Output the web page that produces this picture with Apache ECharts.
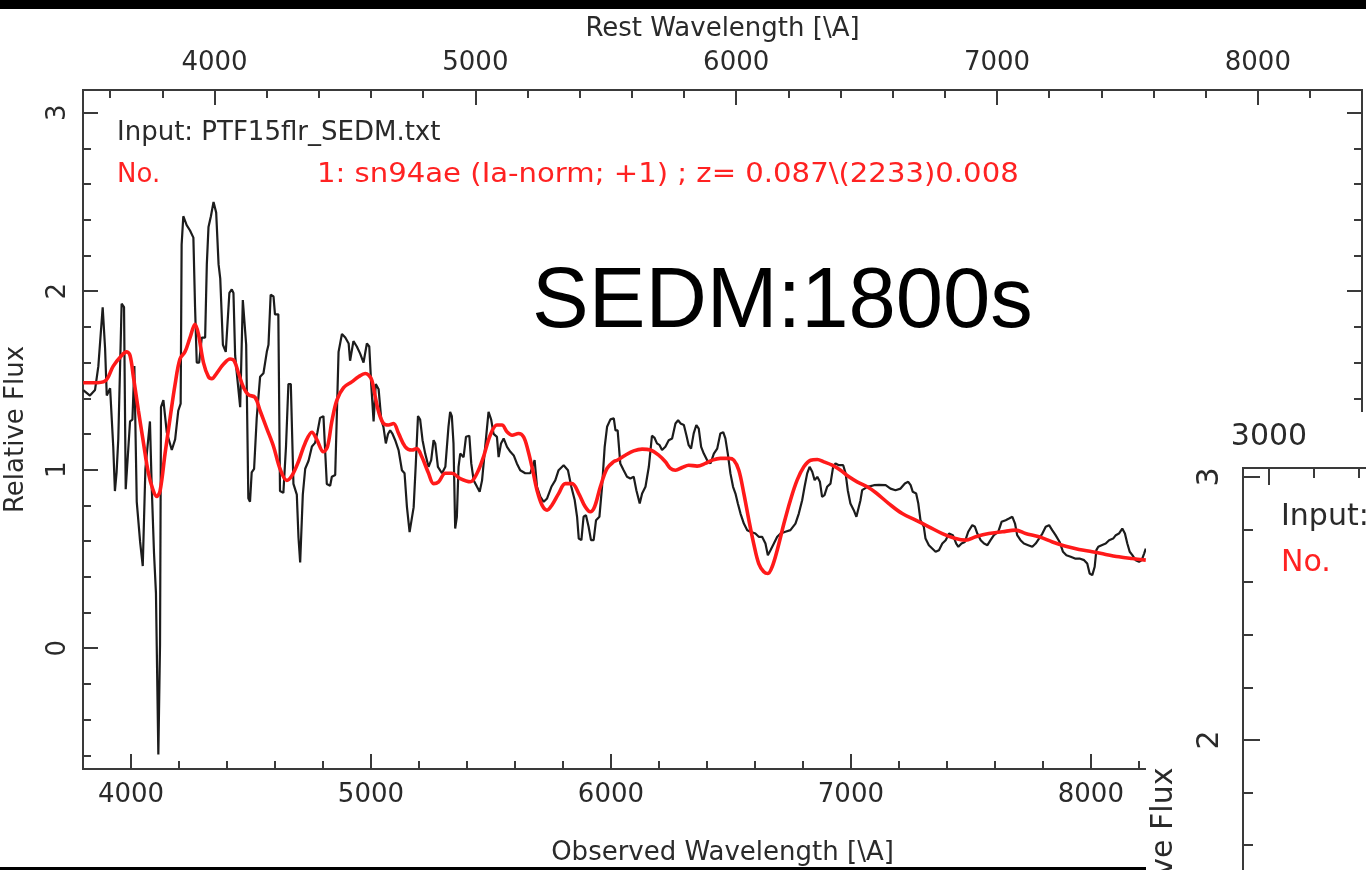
<!DOCTYPE html>
<html>
<head>
<meta charset="utf-8">
<script src="https://cdn.jsdelivr.net/npm/echarts@6/dist/echarts.min.js"></script>
<style>
html,body{margin:0;padding:0;background:#fff;overflow:hidden}
#c{width:1366px;height:870px}
</style>
</head>
<body>
<div id="c"></div>
<script>
// ---------------- data ----------------
const Z = 0.087;

// observed spectrum (black)
const obsWave = [3801,3829,3850,3864,3882,3892,3899,3913,3926,3933,3940,3947,3961,3971,3978,3985,3996,4006,4014,4024,4038,4049,4060,4079,4086,4096,4104,4114,4121,4125,4135,4149,4170,4184,4197,4207,4211,4218,4232,4246,4260,4267,4274,4284,4295,4309,4316,4323,4333,4344,4355,4365,4372,4383,4395,4410,4420,4427,4434,4441,4455,4466,4472,4480,4489,4496,4503,4513,4524,4538,4552,4566,4573,4582,4594,4600,4614,4621,4635,4646,4656,4666,4677,4691,4698,4705,4716,4726,4740,4754,4767,4777,4788,4802,4816,4830,4837,4851,4865,4879,4893,4907,4913,4927,4941,4955,4969,4983,4993,5001,5011,5020,5032,5043,5052,5062,5071,5080,5090,5101,5115,5129,5140,5150,5161,5178,5187,5196,5205,5215,5226,5240,5251,5261,5268,5279,5296,5310,5323,5330,5337,5344,5351,5358,5365,5372,5386,5396,5410,5418,5428,5442,5453,5463,5476,5490,5501,5511,5525,5532,5542,5553,5567,5581,5595,5608,5622,5643,5664,5682,5692,5706,5720,5734,5752,5768,5782,5803,5821,5835,5849,5859,5866,5877,5886,5896,5907,5917,5928,5938,5952,5963,5974,5984,5998,6012,6019,6028,6039,6053,6067,6081,6095,6106,6120,6130,6144,6158,6171,6181,6192,6203,6213,6227,6241,6255,6269,6280,6290,6304,6315,6324,6334,6345,6356,6366,6376,6387,6401,6415,6429,6443,6456,6468,6477,6487,6498,6509,6519,6529,6540,6554,6568,6582,6602,6616,6630,6644,6654,6665,6679,6693,6707,6727,6748,6769,6783,6797,6807,6818,6828,6839,6849,6860,6871,6880,6890,6901,6915,6926,6936,6950,6968,6978,6987,6998,7012,7023,7030,7040,7047,7057,7068,7082,7096,7117,7124,7145,7165,7186,7207,7225,7239,7249,7258,7272,7281,7290,7304,7311,7325,7339,7353,7367,7381,7395,7409,7425,7439,7448,7461,7475,7489,7506,7517,7527,7541,7555,7569,7582,7596,7614,7628,7645,7659,7673,7684,7693,7707,7721,7739,7756,7770,7784,7798,7812,7826,7839,7853,7870,7884,7898,7916,7934,7953,7972,7985,7995,8006,8016,8023,8031,8045,8062,8076,8093,8104,8117,8131,8142,8152,8162,8173,8187,8201,8212,8222,8229];
const obsFlux = [1.446,1.415,1.446,1.58,1.91,1.68,1.415,1.456,1.13,0.88,0.985,1.17,1.93,1.91,0.89,0.90,1.27,1.28,1.58,0.82,0.595,0.46,1.005,1.27,0.92,0.53,0.31,-0.595,0.02,1.35,1.39,1.21,1.11,1.17,1.33,1.37,2.26,2.42,2.37,2.34,2.30,1.91,1.60,1.60,1.74,1.74,2.15,2.36,2.42,2.50,2.44,2.15,2.07,1.70,1.66,1.99,2.01,1.99,1.64,1.54,1.35,1.95,1.96,1.70,0.84,0.82,0.985,1.005,1.29,1.52,1.54,1.66,1.70,1.98,1.97,1.87,1.87,0.88,0.87,1.13,1.48,1.48,0.92,0.86,0.62,0.48,0.86,1.005,1.05,1.13,1.15,1.21,1.29,1.30,0.92,0.91,0.96,0.97,1.66,1.76,1.74,1.707,1.61,1.72,1.69,1.65,1.60,1.707,1.69,1.48,1.27,1.48,1.45,1.28,1.24,1.147,1.20,1.22,1.20,1.165,1.11,0.997,0.98,0.79,0.65,0.79,1.035,1.30,1.28,1.165,1.09,1.016,1.053,1.165,1.147,1.016,0.98,1.016,1.24,1.324,1.30,1.147,0.67,0.736,1.016,1.09,1.07,1.184,1.19,1.035,0.94,0.904,0.876,0.94,1.128,1.324,1.28,1.20,1.184,1.07,1.147,1.175,1.128,1.10,1.08,1.035,0.997,0.98,0.98,1.053,0.904,0.848,0.82,0.839,0.904,0.94,0.997,1.025,0.997,0.904,0.83,0.736,0.614,0.605,0.736,0.745,0.68,0.605,0.605,0.717,0.736,0.904,1.128,1.24,1.282,1.287,1.22,1.22,1.035,0.997,0.96,0.95,0.96,0.885,0.81,0.866,0.904,1.016,1.19,1.18,1.147,1.137,1.11,1.128,1.165,1.175,1.259,1.277,1.259,1.25,1.19,1.137,1.118,1.203,1.25,1.23,1.128,1.09,1.053,1.035,1.09,1.118,1.203,1.21,1.175,1.09,0.979,0.904,0.866,0.81,0.754,0.698,0.661,0.652,0.642,0.624,0.624,0.586,0.521,0.549,0.586,0.624,0.642,0.652,0.661,0.698,0.754,0.829,0.904,0.979,1.016,0.988,0.941,0.96,0.932,0.848,0.857,0.904,0.922,1.016,1.035,1.025,1.025,0.979,0.885,0.81,0.773,0.736,0.726,0.829,0.885,0.894,0.904,0.908,0.913,0.915,0.913,0.913,0.894,0.885,0.894,0.922,0.932,0.913,0.876,0.866,0.81,0.717,0.68,0.614,0.577,0.558,0.54,0.549,0.586,0.605,0.642,0.633,0.586,0.568,0.586,0.595,0.652,0.689,0.68,0.642,0.605,0.586,0.577,0.605,0.633,0.652,0.708,0.717,0.726,0.736,0.698,0.633,0.605,0.586,0.577,0.568,0.586,0.614,0.642,0.68,0.689,0.661,0.633,0.595,0.54,0.521,0.512,0.502,0.502,0.493,0.474,0.418,0.409,0.456,0.549,0.568,0.577,0.586,0.605,0.614,0.633,0.642,0.67,0.642,0.586,0.54,0.521,0.493,0.484,0.493,0.53,0.558];

// best-match template (red)
const tmplWave = [3801,3843,3892,3926,3961,3982,3996,4010,4031,4052,4072,4091,4107,4121,4142,4163,4184,4204,4225,4246,4267,4281,4302,4323,4337,4357,4385,4413,4430,4448,4469,4489,4517,4538,4566,4594,4621,4649,4670,4698,4726,4754,4774,4802,4819,4837,4858,4886,4920,4948,4976,4990,5004,5018,5032,5052,5073,5094,5115,5143,5171,5191,5212,5240,5261,5282,5310,5337,5372,5414,5442,5469,5497,5525,5546,5567,5588,5615,5636,5654,5674,5692,5713,5734,5754,5782,5810,5838,5866,5893,5914,5932,5956,5984,6012,6026,6060,6095,6130,6165,6199,6227,6248,6269,6297,6324,6359,6394,6422,6456,6491,6512,6533,6554,6575,6595,6616,6637,6654,6672,6693,6721,6748,6776,6804,6832,6860,6887,6922,6957,6992,7026,7068,7103,7158,7214,7270,7325,7381,7436,7478,7520,7575,7631,7687,7728,7784,7840,7895,7951,8006,8062,8117,8173,8229];
const tmplFlux = [1.487,1.487,1.497,1.58,1.64,1.66,1.64,1.52,1.33,1.15,0.985,0.89,0.85,0.88,1.09,1.29,1.48,1.62,1.66,1.74,1.815,1.76,1.60,1.52,1.51,1.54,1.59,1.62,1.61,1.54,1.46,1.42,1.405,1.33,1.23,1.13,1.005,0.94,0.965,1.046,1.15,1.21,1.17,1.10,1.13,1.27,1.39,1.46,1.492,1.52,1.539,1.53,1.50,1.408,1.324,1.259,1.25,1.259,1.203,1.128,1.11,1.118,1.072,0.98,0.922,0.932,0.98,0.98,0.95,0.932,0.98,1.072,1.193,1.25,1.25,1.212,1.193,1.203,1.184,1.11,0.997,0.885,0.801,0.773,0.801,0.866,0.922,0.922,0.866,0.792,0.764,0.792,0.904,1.007,1.045,1.053,1.081,1.105,1.115,1.11,1.081,1.044,1.007,0.997,1.012,1.025,1.02,1.035,1.053,1.063,1.063,1.053,0.997,0.866,0.717,0.586,0.474,0.428,0.418,0.456,0.549,0.698,0.829,0.941,1.016,1.053,1.057,1.044,1.025,0.997,0.96,0.932,0.904,0.872,0.81,0.754,0.717,0.68,0.642,0.614,0.605,0.624,0.642,0.652,0.661,0.642,0.624,0.595,0.571,0.553,0.54,0.525,0.512,0.502,0.493];

// axes / ticks
const obsRange = [3800, 9130];
const fluxRange = [-0.677, 3.127];
const obsMajorTicks = [4000, 5000, 6000, 7000, 8000, 9000];
const restMajorTicks = [4000, 5000, 6000, 7000, 8000];
const fluxMajorTicks = [0, 1, 2, 3];
const p2RestRange = [2884.4, 4662];
const p2FluxRange = [0.023, 3.034];
const p2RestMajorTicks = [3000, 4000];
const p2FluxMajorTicks = [1, 2, 3];

const inputLabel = 'Input: PTF15flr_SEDM.txt';
const matchNo = 'No.';
const matchLabel = '1: sn94ae (Ia-norm; +1) ; z= 0.087\\(2233)0.008';
const bigLabel = 'SEDM:1800s';

// ---------------- helpers ----------------
function minorTicks(lo, hi, step, majorStep) {
  const out = [];
  const start = Math.ceil(lo / step - 1e-9);
  for (let k = start; k * step <= hi + 1e-9; k++) {
    const v = Math.round(k * step * 1000) / 1000;
    if (Math.abs(v / majorStep - Math.round(v / majorStep)) > 1e-6) out.push(v);
  }
  return out;
}
const FONT = 'DejaVu Sans';
const AX = '#3a3a3a';
const TXT = '#2a2a2a';

function axis(o) {
  const a = {
    type: 'value', gridIndex: o.grid, position: o.pos,
    min: o.min, max: o.max, z: o.z || 0,
    axisLine: { show: true, onZero: false, lineStyle: { color: AX, width: 2 } },
    axisTick: { show: true, inside: true, length: o.len, customValues: o.ticks,
                lineStyle: { color: AX, width: 2 } },
    axisLabel: o.labels ? Object.assign({ show: true, customValues: o.ticks,
      formatter: function (v) { return String(v); },
      fontSize: o.fs || 26, fontFamily: FONT, color: TXT, margin: o.margin },
      o.rotate ? { rotate: o.rotate } : {}) : { show: false },
    splitLine: { show: false },
    minorTick: { show: false }
  };
  if (o.name) {
    a.name = o.name; a.nameLocation = 'middle'; a.nameGap = o.nameGap;
    a.nameRotate = o.nameRotate || 0;
    a.nameTextStyle = { fontSize: o.fs || 26, fontFamily: FONT, color: TXT };
  }
  return a;
}

const restRange = [obsRange[0] / (1 + Z), obsRange[1] / (1 + Z)];

const xAxes = [
  axis({grid:0,pos:'bottom',min:obsRange[0],max:obsRange[1],ticks:obsMajorTicks,len:15,labels:true,margin:13,
        name:'Observed Wavelength [\\A]',nameGap:71}),
  axis({grid:0,pos:'top',min:restRange[0],max:restRange[1],ticks:restMajorTicks,len:15,labels:true,margin:14,
        name:'Rest Wavelength [\\A]',nameGap:48}),
  axis({grid:1,pos:'bottom',min:obsRange[0],max:obsRange[1],ticks:minorTicks(obsRange[0],obsRange[1],200,1000),len:8}),
  axis({grid:1,pos:'top',min:restRange[0],max:restRange[1],ticks:minorTicks(restRange[0],restRange[1],200,1000),len:8}),
  axis({grid:2,pos:'top',min:p2RestRange[0],max:p2RestRange[1],ticks:p2RestMajorTicks,len:17,labels:true,margin:16,fs:30,z:10}),
  axis({grid:3,pos:'top',min:p2RestRange[0],max:p2RestRange[1],ticks:minorTicks(p2RestRange[0],p2RestRange[1],200,1000),len:10,z:10})
];
const yAxes = [
  axis({grid:0,pos:'left',min:fluxRange[0],max:fluxRange[1],ticks:fluxMajorTicks,len:15,labels:true,margin:12,rotate:90,
        name:'Relative Flux',nameGap:54,nameRotate:90}),
  axis({grid:0,pos:'right',min:fluxRange[0],max:fluxRange[1],ticks:fluxMajorTicks,len:15}),
  axis({grid:1,pos:'left',min:fluxRange[0],max:fluxRange[1],ticks:minorTicks(fluxRange[0],fluxRange[1],0.2,1),len:8}),
  axis({grid:1,pos:'right',min:fluxRange[0],max:fluxRange[1],ticks:minorTicks(fluxRange[0],fluxRange[1],0.2,1),len:8}),
  axis({grid:2,pos:'left',min:p2FluxRange[0],max:p2FluxRange[1],ticks:p2FluxMajorTicks,len:17,labels:true,margin:18,rotate:90,fs:30,z:10,
        name:'Relative Flux',nameGap:64,nameRotate:90}),
  axis({grid:3,pos:'left',min:p2FluxRange[0],max:p2FluxRange[1],ticks:minorTicks(p2FluxRange[0],p2FluxRange[1],0.2,1),len:10,z:10})
];

const obsData = obsWave.map((w, i) => [w, obsFlux[i]]);
const tmplData = tmplWave.map((w, i) => [w, tmplFlux[i]]);

const G = { show: false, containLabel: false, outerBoundsMode: 'none' };
const chart = echarts.init(document.getElementById('c'), null, { renderer: 'canvas' });
chart.setOption({
  animation: false,
  backgroundColor: '#ffffff',
  grid: [
    Object.assign({ left: 83, top: 90, width: 1279, height: 679 }, G),
    Object.assign({ left: 83, top: 90, width: 1279, height: 679 }, G),
    Object.assign({ left: 1243, top: 468, width: 400, height: 792 }, G),
    Object.assign({ left: 1243, top: 468, width: 400, height: 792 }, G)
  ],
  xAxis: xAxes,
  yAxis: yAxes,
  series: [
    { type: 'line', xAxisIndex: 0, yAxisIndex: 0, data: obsData, showSymbol: false, symbol: 'none',
      lineStyle: { color: '#1c1c1c', width: 2.2 }, clip: true, z: 2 },
    { type: 'line', xAxisIndex: 0, yAxisIndex: 0, data: tmplData, showSymbol: false, symbol: 'none', smooth: 0.35,
      lineStyle: { color: '#ff1a1a', width: 3.6 }, clip: true, z: 3 }
  ],
  graphic: [
    { type: 'rect', z: 5, shape: { x: 1146, y: 412, width: 230, height: 470 }, style: { fill: '#ffffff' } },
    { type: 'rect', z: 30, shape: { x: 0, y: 0, width: 1366, height: 9 }, style: { fill: '#000000' } },
    { type: 'rect', z: 30, shape: { x: 0, y: 867, width: 1146, height: 3 }, style: { fill: '#000000' } },
    { type: 'text', z: 30, x: 117, y: 133, style: { text: inputLabel, font: '26px "DejaVu Sans"', fill: TXT, verticalAlign: 'middle' } },
    { type: 'text', z: 30, x: 117, y: 175, style: { text: matchNo, font: '26px "DejaVu Sans"', fill: '#ff2222', verticalAlign: 'middle' } },
    { type: 'text', z: 30, x: 317, y: 175, scaleX: 1.12, style: { text: matchLabel, font: '26px "DejaVu Sans"', fill: '#ff2222', verticalAlign: 'middle' } },
    { type: 'text', z: 30, x: 532, y: 304, style: { text: bigLabel, font: '85px "Liberation Sans"', fill: '#000000', verticalAlign: 'middle' } },
    { type: 'text', z: 30, x: 1281, y: 517, style: { text: 'Input:', font: '30px "DejaVu Sans"', fill: TXT, verticalAlign: 'middle' } },
    { type: 'text', z: 30, x: 1281, y: 563, style: { text: matchNo, font: '30px "DejaVu Sans"', fill: '#ff2222', verticalAlign: 'middle' } }
  ]
});
</script>
</body>
</html>
